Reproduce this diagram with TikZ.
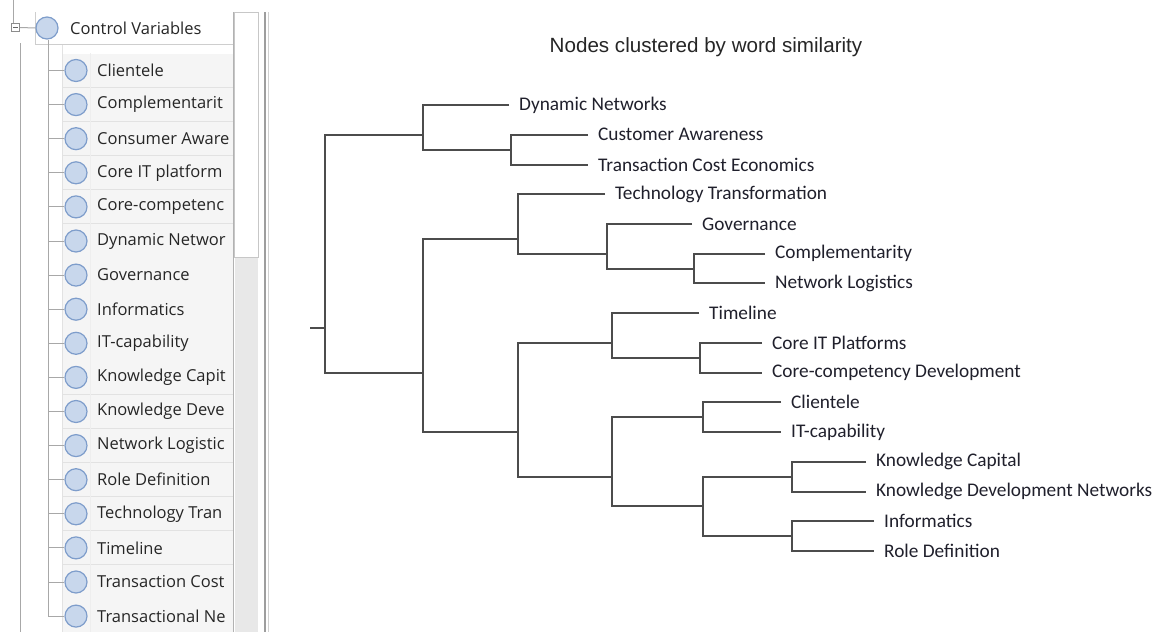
\documentclass[tikz,border=0pt]{standalone}
\usepackage{fontspec}
\setmainfont{Carlito}
\newfontfamily\uifont{Open Sans}
\newfontfamily\titlefont{Liberation Sans}
\definecolor{branchcol}{HTML}{4C4C4C}
\definecolor{labelcol}{HTML}{20202C}
\definecolor{uitext}{HTML}{262626}
\definecolor{bubblefill}{HTML}{C8D7EC}
\definecolor{bubbledraw}{HTML}{7E9DCB}
\definecolor{treecol}{HTML}{A8A8A8}
\definecolor{cellfill}{HTML}{F5F5F5}
\definecolor{cellsep}{HTML}{E2E2E2}
\definecolor{trackfill}{HTML}{E8E8E8}
\begin{document}
\begin{tikzpicture}[x=1pt,y=-1pt,
  branch/.style={draw=branchcol, line width=2pt},
  leaf/.style={anchor=west, inner xsep=10pt, inner ysep=0pt, text=labelcol,
    font=\fontsize{19.3}{19.3}\selectfont},
  bubble/.style={circle, minimum size=22pt, inner sep=0pt, fill=bubblefill,
    draw=bubbledraw, line width=1.2pt},
  uilabel/.style={anchor=west, inner sep=0pt, text=uitext,
    font=\uifont\fontsize{16.5}{16.5}\selectfont},
  treeline/.style={draw=treecol, line width=1pt},
  gridline/.style={draw=cellsep, line width=1pt}]
\useasboundingbox (0,0) rectangle (1168,632);
\fill[white] (0,0) rectangle (1168,632);

% ---------- navigator panel ----------
% row cells of the child list
\foreach \i in {0,...,16}{
  \pgfmathsetmacro{\yy}{70.5+34.1*\i}
  \fill[cellfill] (62,\yy-17) rectangle (233,\yy+17);
  \draw[gridline] (62,\yy+17) -- (233,\yy+17);
}
\draw[gridline] (62,44) -- (62,632);
\draw[draw=cellsep!60, line width=0.8pt] (90,53) -- (90,632);

% parent row box
\draw[draw=cellsep!80!gray, line width=1pt] (35,12) -- (35,44) -- (233,44);
\draw[draw=black!30, line width=1pt] (233,12) -- (233,632);

% scroll bar
\fill[trackfill] (234.5,257) rectangle (258,632);
\draw[draw=black!22, fill=white, line width=1pt] (234.5,12) rectangle (258,257);
\draw[draw=black!38, line width=1.2pt] (265,12) -- (265,632);
\draw[draw=black!18, line width=1pt] (268.5,12) -- (268.5,632);

% outer tree lines
\draw[treeline] (13,0) -- (13,23);
\draw[treeline] (20,43) -- (20,632);

% expand/collapse toggle and parent entry
\node[draw=black!45, fill=white, line width=0.8pt, minimum size=8pt, inner sep=0pt]
  (toggle) at (15.5,27.5) {};
\draw[black!60, line width=0.9pt] (13.3,27.5) -- (17.7,27.5);
\node[bubble] (cv) at (47,28) {};
\draw[treeline] (toggle.east) -- (cv.west);
\node[uilabel] (cvtext) at (70,28) {Control Variables};

% child entries
\coordinate (trunk) at (48,40);
\foreach \i/\t in {0/Clientele,1/Complementarit,2/Consumer Aware,3/Core IT platform,
  4/Core-competenc,5/Dynamic Networ,6/Governance,7/Informatics,8/IT-capability,
  9/Knowledge Capit,10/Knowledge Deve,11/Network Logistic,12/Role Definition,
  13/Technology Tran,14/Timeline,15/Transaction Cost,16/Transactional Ne}{
  \pgfmathsetmacro{\yy}{70.5+34.1*\i}
  \node[bubble] (bub\i) at (76,\yy) {};
  \node[uilabel] (item\i) at (97,\yy) {\t};
  \draw[treeline] (trunk |- bub\i) -- (bub\i.west);
}
\draw[treeline] (trunk) -- (trunk |- bub16);

% ---------- dendrogram ----------
\node[font=\titlefont\fontsize{20.6}{20.6}\selectfont, text=black!85] (title)
  at (706,47) {Nodes clustered by word similarity};

% leaves
\node[leaf] (l0)  at (509,105.0) {Dynamic Networks};
\node[leaf] (l1)  at (588,134.7) {Customer Awareness};
\node[leaf] (l2)  at (588,164.5) {Transaction Cost Economics};
\node[leaf] (l3)  at (605,194.2) {Technology Transformation};
\node[leaf] (l4)  at (692,223.9) {Governance};
\node[leaf] (l5)  at (765,253.7) {Complementarity};
\node[leaf] (l6)  at (765,283.4) {Network Logistics};
\node[leaf] (l7)  at (699,313.1) {Timeline};
\node[leaf] (l8)  at (762,342.8) {Core IT Platforms};
\node[leaf] (l9)  at (762,372.6) {Core-competency Development};
\node[leaf] (l10) at (781,402.3) {Clientele};
\node[leaf] (l11) at (781,432.0) {IT-capability};
\node[leaf] (l12) at (866,461.8) {Knowledge Capital};
\node[leaf] (l13) at (866,491.5) {Knowledge Development Networks};
\node[leaf] (l14) at (874,521.2) {Informatics};
\node[leaf] (l15) at (874,550.9) {Role Definition};

% merge points
\coordinate (stub) at (310,328.0);
\coordinate (root) at (325,328.0);
\coordinate (A)    at (423,134.7);
\coordinate (A2)   at (511,149.6);
\coordinate (B)    at (423,372.6);
\coordinate (B1)   at (518,238.8);
\coordinate (B1a)  at (607,253.7);
\coordinate (B1b)  at (694,268.5);
\coordinate (B2)   at (518,432.0);
\coordinate (B2a)  at (612,342.8);
\coordinate (B2a2) at (700,357.7);
\coordinate (B2b)  at (612,476.6);
\coordinate (B2b1) at (703,417.1);
\coordinate (B2b2) at (703,506.3);
\coordinate (K)    at (792,476.6);
\coordinate (I)    at (792,536.0);

% branches
\draw[branch] (stub) -- (root);
\draw[branch] (A) -| (root) |- (B);
\draw[branch] (l0.west) -| (A) |- (A2);
\draw[branch] (l1.west) -| (A2) |- (l2.west);
\draw[branch] (B1) -| (B) |- (B2);
\draw[branch] (l3.west) -| (B1) |- (B1a);
\draw[branch] (l4.west) -| (B1a) |- (B1b);
\draw[branch] (l5.west) -| (B1b) |- (l6.west);
\draw[branch] (B2a) -| (B2) |- (B2b);
\draw[branch] (l7.west) -| (B2a) |- (B2a2);
\draw[branch] (l8.west) -| (B2a2) |- (l9.west);
\draw[branch] (B2b1) -| (B2b) |- (B2b2);
\draw[branch] (l10.west) -| (B2b1) |- (l11.west);
\draw[branch] (K) -| (B2b2) |- (I);
\draw[branch] (l12.west) -| (K) |- (l13.west);
\draw[branch] (l14.west) -| (I) |- (l15.west);
\end{tikzpicture}
\end{document}
